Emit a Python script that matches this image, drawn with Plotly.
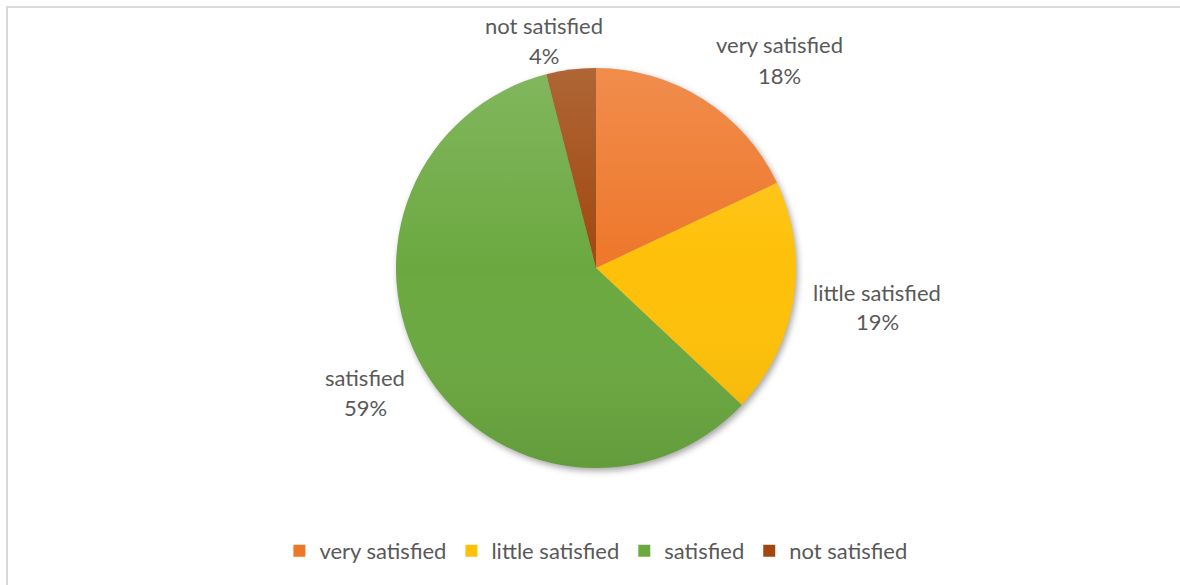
import base64
import plotly.graph_objects as go

# Survey satisfaction shares (percent)
categories = ["very satisfied", "little satisfied", "satisfied", "not satisfied"]
shares = [18, 19, 59, 4]
colors = ["#EE772A", "#FEC008", "#6BA940", "#A0480F"]

W, H = 1180, 585
TEXT_COLOR = "#595959"
FONT = "Lato, Open Sans, sans-serif"
FONT_SIZE = 22

# pie placement in pixels: centre and radius
CX, CY, R = 596, 268, 200

# pixel anchors for the outside data labels (label line, percent line)
label_pos = {
    "very satisfied": (779, 45, 75),
    "little satisfied": (877, 292, 321),
    "satisfied": (365, 377, 407),
    "not satisfied": (544, 26, 56),
}


def svg_uri(svg):
    return "data:image/svg+xml;base64," + base64.b64encode(svg.encode()).decode()


# soft drop shadow behind the pie
shadow_svg = f"""<svg xmlns="http://www.w3.org/2000/svg" width="{2*R+40}" height="{2*R+40}">
<defs><filter id="b" x="-20%" y="-20%" width="140%" height="140%"><feGaussianBlur stdDeviation="3"/></filter></defs>
<circle cx="{R+22}" cy="{R+23}" r="{R}" fill="#000" fill-opacity="0.35" filter="url(#b)"/></svg>"""

# light-to-dark shading laid over the pie
shade_svg = f"""<svg xmlns="http://www.w3.org/2000/svg" width="{2*R}" height="{2*R}">
<defs><linearGradient id="g" x1="0" y1="0" x2="0" y2="1">
<stop offset="0" stop-color="#fff" stop-opacity="0.16"/>
<stop offset="0.5" stop-color="#fff" stop-opacity="0"/>
<stop offset="1" stop-color="#000" stop-opacity="0.08"/>
</linearGradient></defs>
<circle cx="{R}" cy="{R}" r="{R}" fill="url(#g)"/></svg>"""

fig = go.Figure(
    go.Pie(
        labels=categories,
        values=shares,
        sort=False,
        direction="clockwise",
        rotation=0,
        marker=dict(colors=colors, line=dict(width=0)),
        textinfo="none",
        hoverinfo="label+percent",
        domain=dict(x=[(CX - R) / W, (CX + R) / W], y=[1 - (CY + R) / H, 1 - (CY - R) / H]),
    )
)

annotations = []
for cat, val in zip(categories, shares):
    px, py1, py2 = label_pos[cat]
    for text, py in ((cat, py1), (f"{val}%", py2)):
        annotations.append(
            dict(
                x=px / W, y=1 - py / H, xref="paper", yref="paper",
                text=text, showarrow=False, xanchor="center", yanchor="middle",
                font=dict(family=FONT, size=FONT_SIZE, color=TEXT_COLOR),
            )
        )

fig.update_layout(
    width=W,
    height=H,
    margin=dict(l=0, r=0, t=0, b=0),
    paper_bgcolor="white",
    plot_bgcolor="white",
    annotations=annotations,
    showlegend=True,
    legend=dict(
        orientation="h",
        x=0.505, xanchor="center",
        y=1 - 551 / H, yanchor="middle",
        font=dict(family=FONT, size=FONT_SIZE, color=TEXT_COLOR),
        itemwidth=30,
        tracegroupgap=0,
    ),
    images=[
        dict(
            source=svg_uri(shadow_svg), xref="paper", yref="paper",
            x=(CX - R - 20) / W, y=1 - (CY - R - 20) / H,
            sizex=(2 * R + 40) / W, sizey=(2 * R + 40) / H,
            xanchor="left", yanchor="top", sizing="stretch", layer="below",
        ),
        dict(
            source=svg_uri(shade_svg), xref="paper", yref="paper",
            x=(CX - R) / W, y=1 - (CY - R) / H,
            sizex=(2 * R) / W, sizey=(2 * R) / H,
            xanchor="left", yanchor="top", sizing="stretch", layer="above",
        ),
    ],
    shapes=[
        dict(
            type="rect", xref="paper", yref="paper",
            x0=7 / W, x1=1.05, y0=-0.05, y1=1 - 7 / H,
            line=dict(color="#D9D9D9", width=2),
        )
    ],
)

fig.write_html("out.html")
